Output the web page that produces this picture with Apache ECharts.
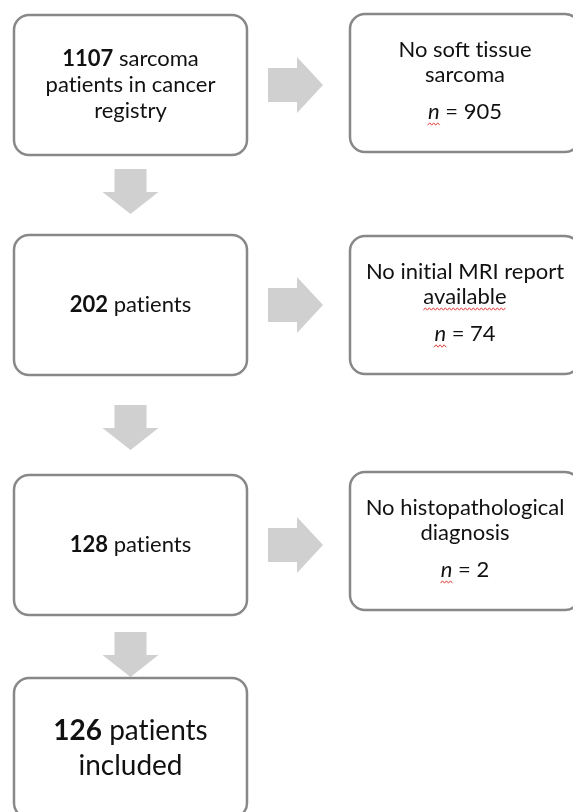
<!DOCTYPE html>
<html>
<head>
<meta charset="utf-8">
<script src="https://cdn.jsdelivr.net/npm/echarts@6/dist/echarts.min.js"></script>
<style>
  html, body { margin: 0; padding: 0; background: #fff; }
  #chart { width: 573px; height: 812px; }
</style>
</head>
<body>
<div id="chart"></div>
<script>
// flow data
var stepCounts = [1107, 202, 128, 126];
var stepTexts = [' sarcoma\npatients in cancer\nregistry', ' patients', ' patients', ' patients\nincluded'];
var excludedReasons = ['No soft tissue\nsarcoma', 'No initial MRI report\navailable', 'No histopathological\ndiagnosis'];
var excludedCounts = [905, 74, 2];
// words the spell checker underlined in the original
var flaggedWords = ['available', 'n'];

// layout (pixel-like units of the hidden axes)
var stepLeft = 14, stepWidth = 233, boxHeight = 140;
var stepTop = [15, 235, 475, 678];
var exclLeft = 350, exclWidth = 230;
var exclTop = [14, 236, 472];
var downArrowTop = [169, 405, 632];
var rightArrowLeft = 268;

var borderColor = '#888888';
var arrowColor = '#d0d0d0';
var fontFamily = 'Lato';
var fs = 22;

var myChart = echarts.init(document.getElementById('chart'));
var measureCtx = document.createElement('canvas').getContext('2d');

// break the Lato "ti" ligature
function noLig(s) {
    return s.replace(/ti/g, 't\u200Ci');
}

function textWidth(s, font) {
    measureCtx.font = font;
    return measureCtx.measureText(s).width;
}

function box(api, x, y, w, h) {
    var p0 = api.coord([x, y]);
    var p1 = api.coord([x + w, y + h]);
    return {
        type: 'rect',
        shape: { x: p0[0], y: p0[1], width: p1[0] - p0[0], height: p1[1] - p0[1], r: 15 },
        style: { fill: '#fff', stroke: borderColor, lineWidth: 2.5 }
    };
}

function poly(api, pts) {
    return {
        type: 'polygon',
        shape: { points: pts.map(function (p) { return api.coord(p); }) },
        style: { fill: arrowColor }
    };
}

function squiggle(x0, x1, y) {
    var pts = [];
    var k = 0;
    for (var x = x0; x <= x1 + 0.1; x += 2, k++) {
        pts.push([x, y + (k % 2 ? -1.2 : 1.2)]);
    }
    return {
        type: 'polyline',
        shape: { points: pts },
        style: { stroke: '#e0302a', lineWidth: 0.9, fill: null }
    };
}

function renderStep(params, api) {
    var i = params.dataIndex;
    var count = api.value(1);
    var big = i === stepCounts.length - 1;
    var size = big ? 28 : fs;
    var lh = big ? 35 : 26;
    var top = stepTop[i];
    var c = api.coord([stepLeft + stepWidth / 2, top + boxHeight / 2]);
    var children = [box(api, stepLeft, top, stepWidth, boxHeight)];
    children.push({
        type: 'text',
        x: c[0], y: c[1],
        style: {
            text: '{b|' + count + '}' + noLig(stepTexts[i]),
            align: 'center', verticalAlign: 'middle',
            fontFamily: fontFamily, fontSize: size, lineHeight: lh, fill: '#111',
            rich: {
                b: { fontFamily: fontFamily, fontSize: size, fontWeight: 'bold', lineHeight: lh, fill: '#111' }
            }
        }
    });
    if (i < downArrowTop.length) {
        // down arrow to the next step
        var cx = stepLeft + stepWidth / 2, y0 = downArrowTop[i];
        children.push(poly(api, [
            [cx - 16, y0], [cx + 16, y0], [cx + 16, y0 + 23], [cx + 28, y0 + 23],
            [cx, y0 + 45], [cx - 28, y0 + 23], [cx - 16, y0 + 23]
        ]));
        // arrow to the excluded box
        var cy = top + boxHeight / 2, x0 = rightArrowLeft;
        children.push(poly(api, [
            [x0, cy - 17], [x0 + 29, cy - 17], [x0 + 29, cy - 28], [x0 + 55, cy],
            [x0 + 29, cy + 28], [x0 + 29, cy + 17], [x0, cy + 17]
        ]));
    }
    return { type: 'group', children: children };
}

function renderExcluded(params, api) {
    var i = params.dataIndex;
    var count = api.value(1);
    var top = exclTop[i];
    var c = api.coord([exclLeft + exclWidth / 2, top + boxHeight / 2 + 3]);
    var children = [
        box(api, exclLeft, top, exclWidth, boxHeight - 2),
        {
            type: 'text',
            x: c[0], y: c[1],
            style: {
                text: noLig(excludedReasons[i]) + '\n{n|n}{t| = ' + count + '}',
                align: 'center', verticalAlign: 'middle',
                fontFamily: fontFamily, fontSize: fs, lineHeight: 25, fill: '#111',
                rich: {
                    n: { fontFamily: fontFamily, fontSize: fs, fontStyle: 'italic', lineHeight: 49, fill: '#111' },
                    t: { fontFamily: fontFamily, fontSize: fs, lineHeight: 49, fill: '#111' }
                }
            }
        }
    ];
    // red spell-check underlines
    var lines = (excludedReasons[i] + '\nn = ' + count).split('\n');
    var centers = [-37, -12, 25];
    var font = fs + 'px ' + fontFamily;
    lines.forEach(function (line, k) {
        var words = line.split(' ');
        var lineW = textWidth(line, font);
        var x = c[0] - lineW / 2;
        words.forEach(function (w) {
            var ww = textWidth(w, font);
            if (flaggedWords.indexOf(w) >= 0 && (w !== 'n' || k === lines.length - 1)) {
                children.push(squiggle(x, x + ww, c[1] + centers[k] + 12));
            }
            x += ww + textWidth(' ', font);
        });
    });
    return { type: 'group', children: children };
}

var option = {
    animation: false,
    grid: { left: 0, right: 0, top: 0, bottom: 0 },
    xAxis: { type: 'value', min: 0, max: 573, show: false },
    yAxis: { type: 'value', min: 0, max: 812, inverse: true, show: false },
    series: [
        {
            type: 'custom',
            renderItem: renderStep,
            clip: false,
            data: stepCounts.map(function (v, i) { return [i, v]; })
        },
        {
            type: 'custom',
            renderItem: renderExcluded,
            clip: false,
            data: excludedCounts.map(function (v, i) { return [i, v]; })
        }
    ]
};
myChart.setOption(option);
</script>
</body>
</html>
